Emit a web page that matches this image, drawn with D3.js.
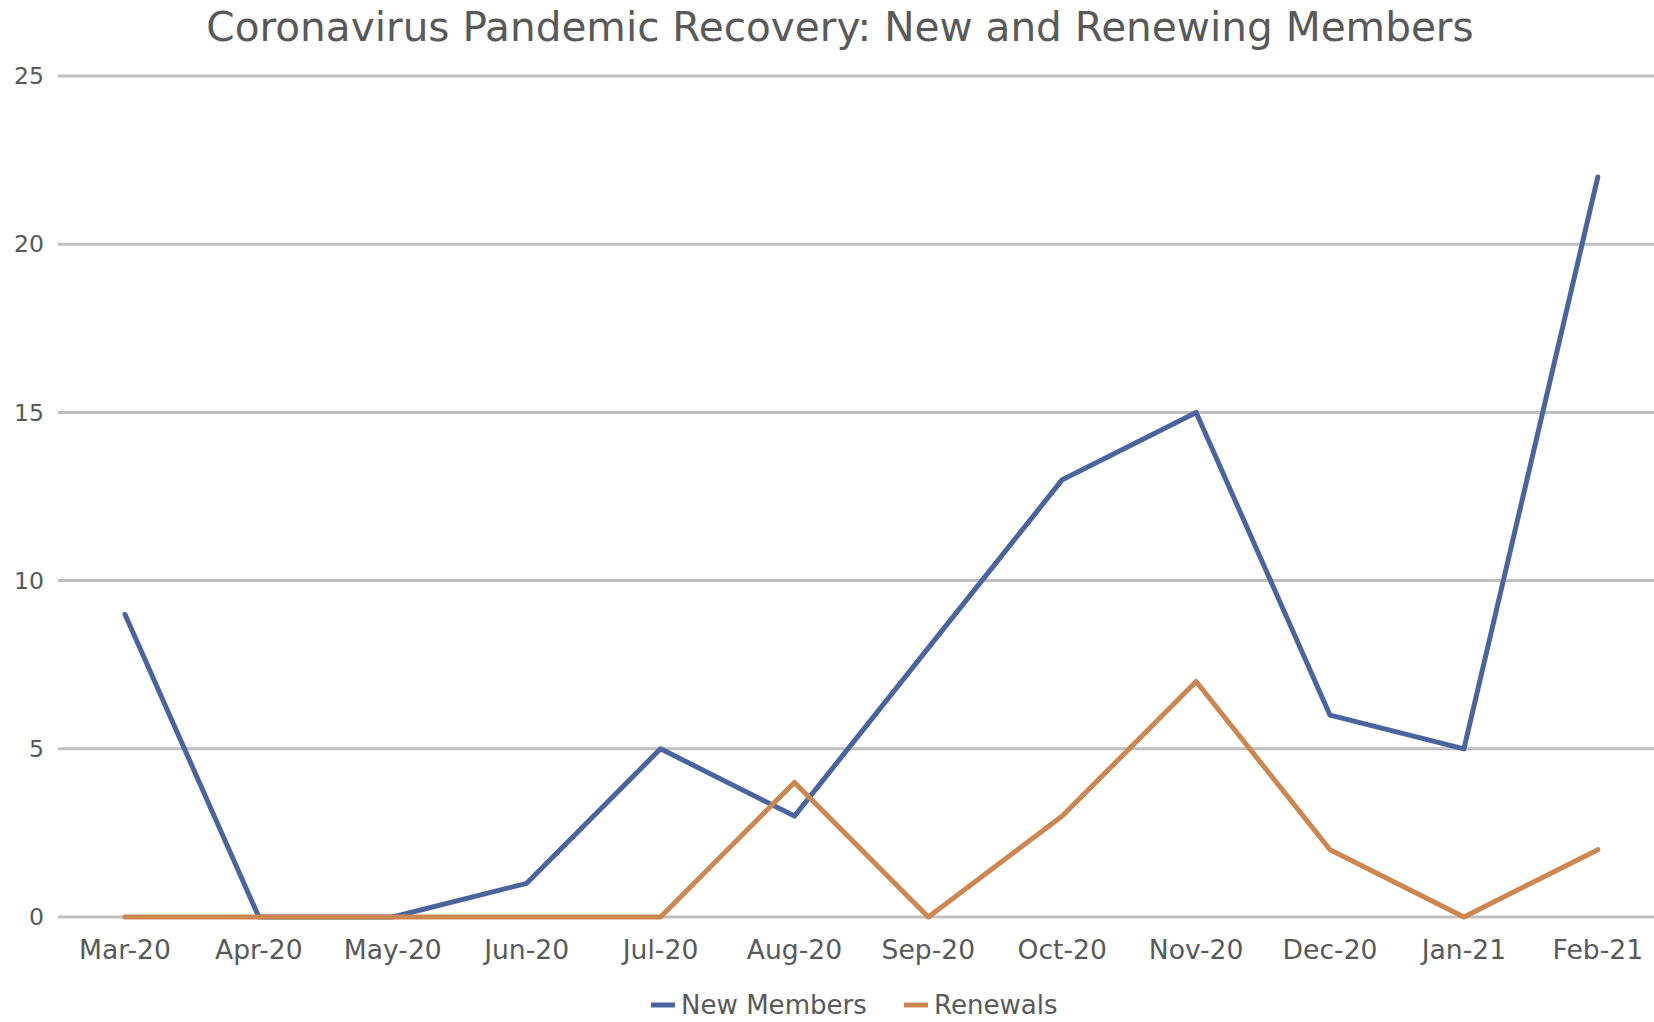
<!DOCTYPE html>
<html><head><meta charset="utf-8">
<script src="https://cdn.jsdelivr.net/npm/d3@7"></script>
<style>html,body{margin:0;padding:0;background:#fff;}svg{display:block;}</style>
</head><body>
<svg id="chart" width="1654" height="1022"></svg>
<script>
const title = "Coronavirus Pandemic Recovery: New and Renewing Members";
const categories = ["Mar-20","Apr-20","May-20","Jun-20","Jul-20","Aug-20","Sep-20","Oct-20","Nov-20","Dec-20","Jan-21","Feb-21"];
const newMembers = [9,0,0,1,5,3,8,13,15,6,5,22];
const renewals = [0,0,0,0,0,4,0,3,7,2,0,2];
const yTicks = [0,5,10,15,20,25];
const seriesNames = ["New Members","Renewals"];
const seriesColors = ["#4a64a0","#cc8650"];

(function(){
const svg = d3.select("#chart");
const W = 1654, H = 1022;
const pLeft = 58, pRight = 58 + 12*133.9, pTop = 76, pBottom = 917;
const font = "'DejaVu Sans', sans-serif";
const txt = "#595959";

function fitSize(sample, target, base) {
  const t = svg.append("text").attr("font-family", font).attr("font-size", base).text(sample);
  const w = t.node().getComputedTextLength();
  t.remove();
  return base * target / w;
}
const titleSize = fitSize(title, 1268, 36);
const xSize = fitSize("Mar-20", 92, 22);
const ySize = fitSize("25", 30, 22);
const legSize = fitSize("New Members", 186, 22);

const x = d3.scaleBand().domain(categories).range([pLeft, pRight]);
const y = d3.scaleLinear().domain([0,25]).range([pBottom, pTop]);

svg.append("text").attr("x", 840).attr("y", 27).attr("dy","0.35em").attr("text-anchor","middle")
  .attr("font-family", font).attr("font-size", titleSize).attr("fill",txt).text(title);

svg.append("g").selectAll("line").data(yTicks).join("line")
  .attr("x1", pLeft).attr("x2", W).attr("y1", d=>y(d)).attr("y2", d=>y(d))
  .attr("stroke","#bfbfbf").attr("stroke-width",3);

svg.append("g").selectAll("text").data(yTicks).join("text")
  .attr("x", 44).attr("y", d=>y(d)).attr("dy","0.35em").attr("text-anchor","end")
  .attr("font-family", font).attr("font-size", ySize).attr("fill",txt).text(d=>d);

svg.append("g").selectAll("text").data(categories).join("text")
  .attr("x", d=>x(d)+x.bandwidth()/2).attr("y", 950).attr("dy","0.35em").attr("text-anchor","middle")
  .attr("font-family", font).attr("font-size", xSize).attr("fill",txt).text(d=>d);

const line = d3.line().x((d,i)=>x(categories[i])+x.bandwidth()/2).y(d=>y(d));
[newMembers, renewals].forEach((s,k)=>{
  svg.append("path").datum(s).attr("d", line).attr("fill","none")
    .attr("stroke", seriesColors[k]).attr("stroke-width",5).attr("stroke-linejoin","round").attr("stroke-linecap","round");
});

const legY = 1005;
const legendItems = [{x:651, tx:681},{x:904, tx:934}];
legendItems.forEach((p,k)=>{
  svg.append("line").attr("x1",p.x).attr("x2",p.x+24).attr("y1",legY).attr("y2",legY)
    .attr("stroke",seriesColors[k]).attr("stroke-width",5);
  svg.append("text").attr("x",p.tx).attr("y",legY).attr("dy","0.35em")
    .attr("font-family",font).attr("font-size",legSize).attr("fill",txt).text(seriesNames[k]);
});
})();
</script>
</body></html>
